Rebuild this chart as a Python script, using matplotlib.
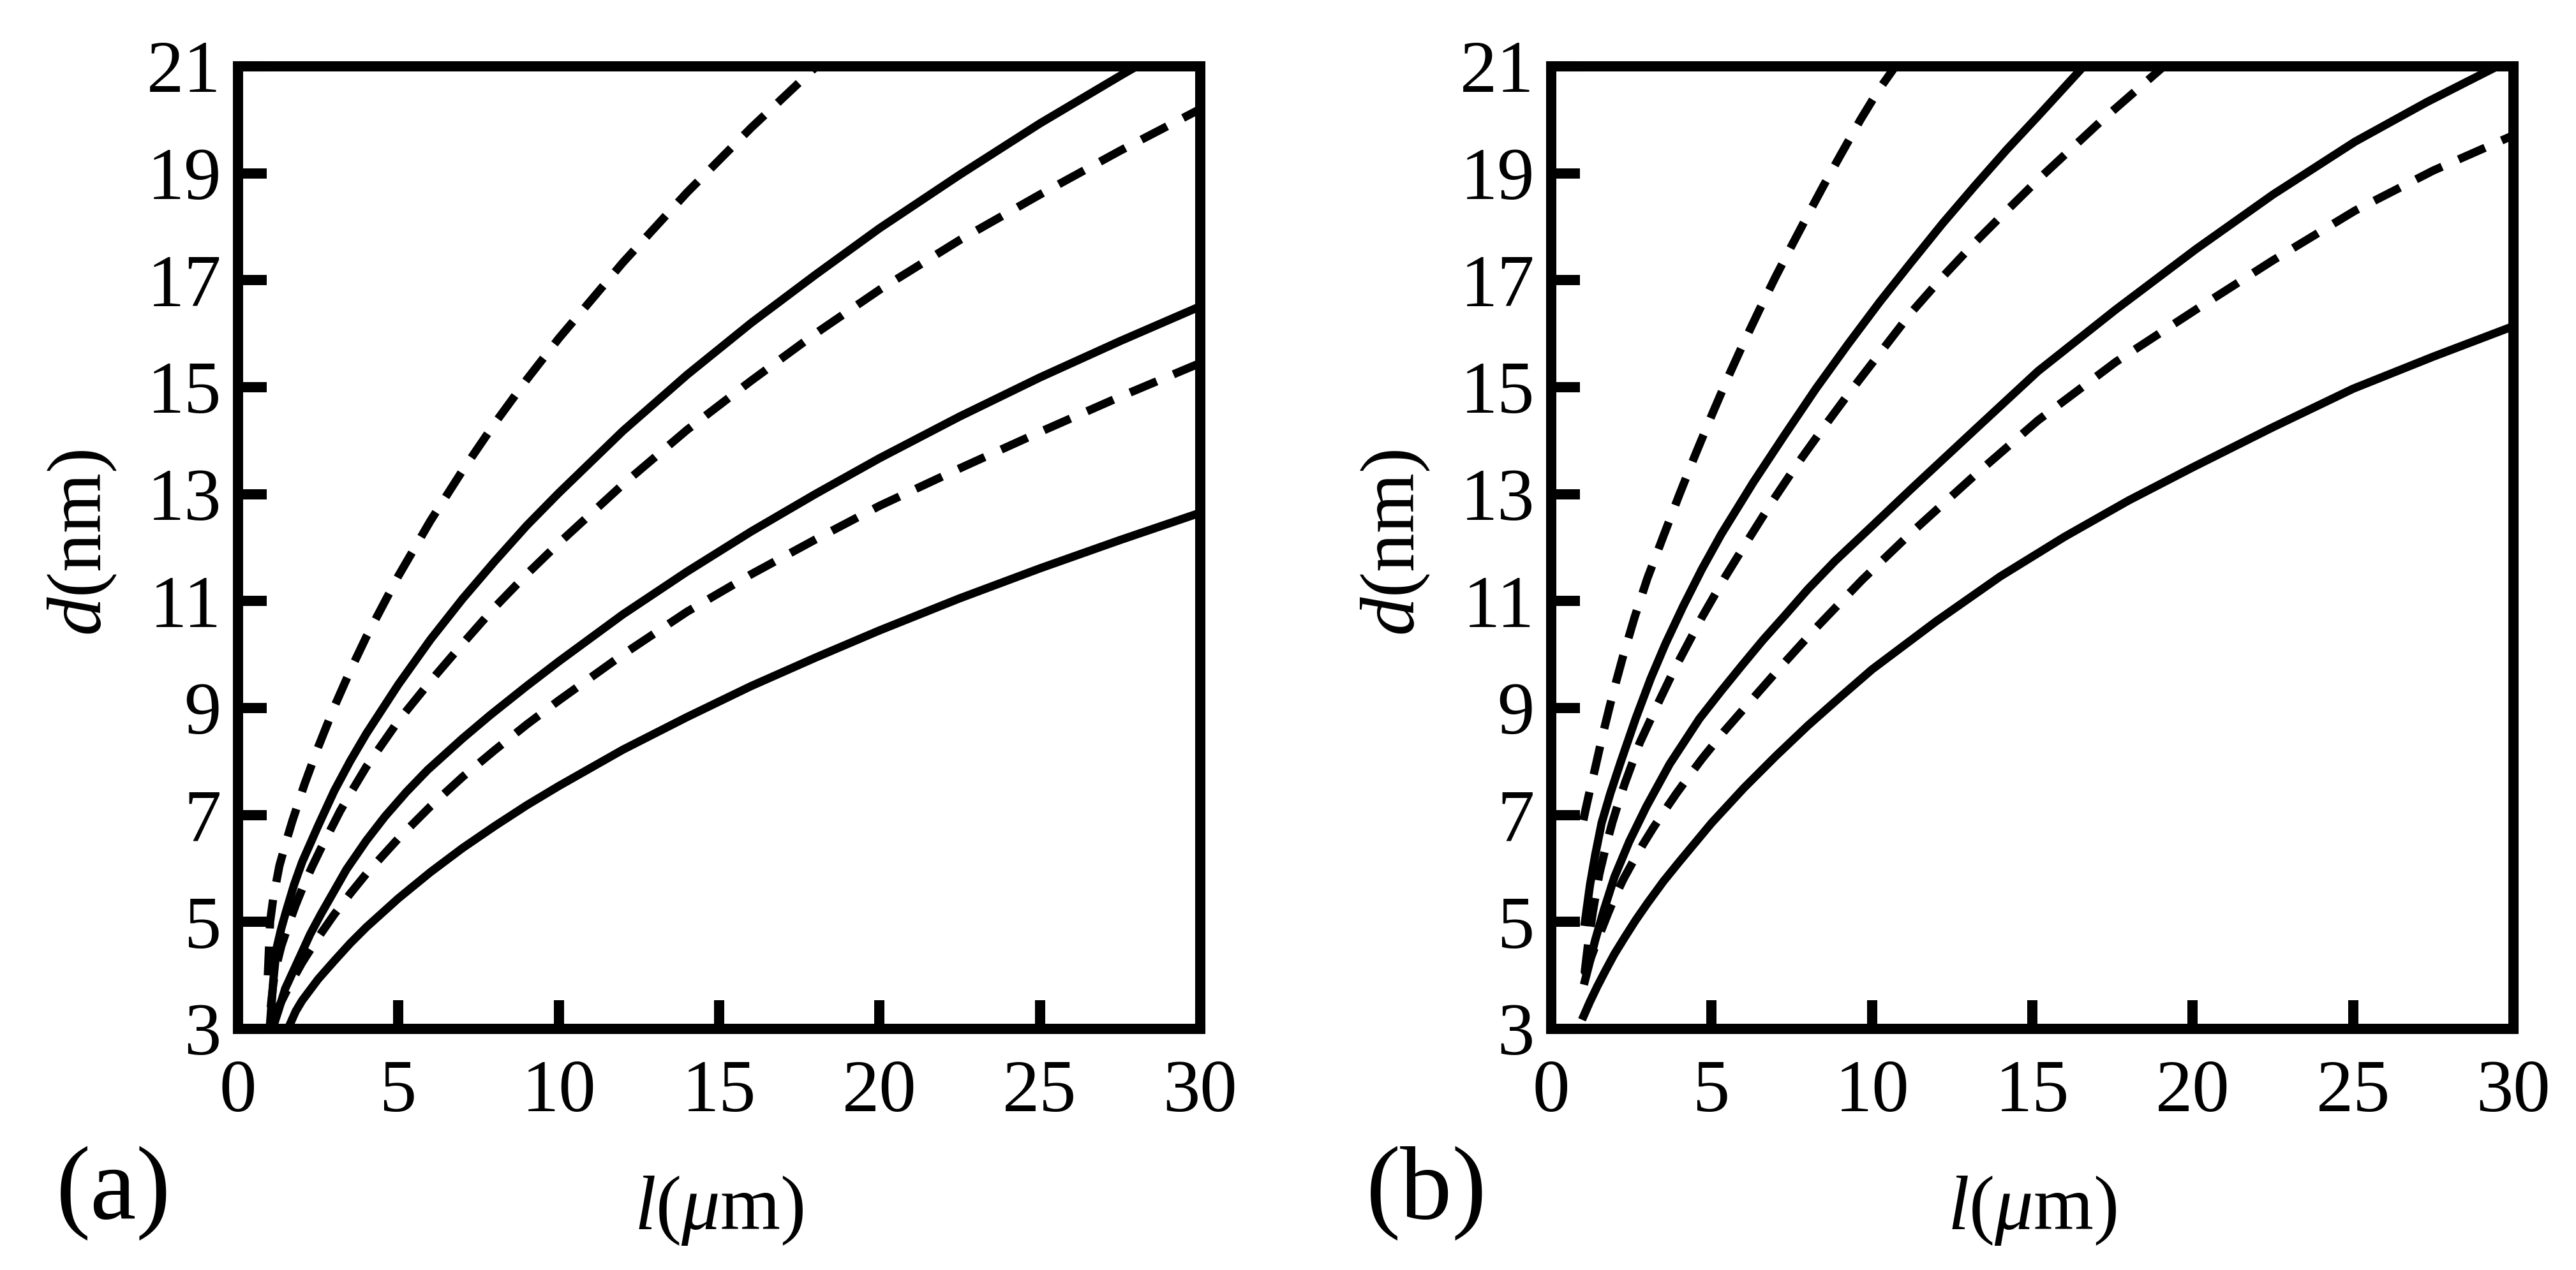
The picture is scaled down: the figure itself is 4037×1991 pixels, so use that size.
import matplotlib
matplotlib.use("Agg")
import matplotlib.pyplot as plt

plt.rcParams['font.family'] = ['Liberation Serif', 'DejaVu Serif']
plt.rcParams['mathtext.fontset'] = 'custom'
plt.rcParams['mathtext.rm'] = 'Liberation Serif'
plt.rcParams['mathtext.it'] = 'Liberation Serif:italic'

# ---- panel (a): l in um, d in nm ----
a_s1_x = [1.63, 1.8, 2.0, 2.5, 3.0, 3.5, 4.0, 5.0, 6.0, 7.0, 8.0, 9.0, 10.0, 12.0, 14.0, 16.0, 18.0, 20.0, 22.5, 25.0, 27.5, 30.0]
a_s1_y = [3.1, 3.33, 3.53, 3.93, 4.27, 4.6, 4.9, 5.44, 5.93, 6.38, 6.79, 7.18, 7.54, 8.22, 8.83, 9.41, 9.94, 10.45, 11.05, 11.61, 12.14, 12.65]

a_d1_x = [1.09, 1.3, 1.6, 2.0, 2.5, 3.0, 3.5, 4.0, 5.0, 6.0, 7.0, 8.0, 9.0, 10.0, 12.0, 14.0, 16.0, 18.0, 20.0, 22.5, 25.0, 27.5, 30.0]
a_d1_y = [3.25, 3.45, 3.81, 4.24, 4.71, 5.14, 5.53, 5.9, 6.56, 7.16, 7.71, 8.21, 8.69, 9.14, 10.0, 10.8, 11.5, 12.15, 12.78, 13.48, 14.16, 14.82, 15.45]

a_s2_x = [1.13, 1.27, 1.47, 1.7, 1.93, 2.25, 2.59, 3.0, 3.38, 4.0, 4.58, 5.25, 5.91, 7.0, 7.87, 9.0, 10.0, 12.0, 14.0, 16.0, 18.0, 20.0, 22.5, 25.0, 27.5, 30.0]
a_s2_y = [3.1, 3.36, 3.75, 4.05, 4.35, 4.77, 5.15, 5.58, 5.98, 6.52, 6.97, 7.43, 7.84, 8.43, 8.87, 9.41, 9.87, 10.75, 11.55, 12.3, 13.0, 13.67, 14.45, 15.18, 15.86, 16.51]

a_d2_x = [1.02, 1.1, 1.2, 1.35, 1.57, 1.8, 2.03, 2.3, 2.59, 2.9, 3.18, 3.5, 3.78, 4.0, 5.0, 6.0, 7.0, 8.0, 9.0, 10.0, 12.0, 14.0, 16.0, 18.0, 20.0, 22.5, 25.0, 27.5, 30.0]
a_d2_y = [3.4, 3.85, 4.19, 4.55, 4.94, 5.32, 5.66, 6.02, 6.38, 6.74, 7.07, 7.4, 7.68, 7.9, 8.76, 9.5, 10.2, 10.88, 11.5, 12.08, 13.18, 14.2, 15.12, 16.0, 16.82, 17.75, 18.6, 19.42, 20.2]

a_s3_x = [1.0, 1.1, 1.2, 1.35, 1.5, 1.75, 2.0, 2.5, 3.0, 3.5, 4.0, 5.0, 6.0, 7.0, 8.0, 9.0, 10.0, 12.0, 14.0, 16.0, 18.0, 20.0, 22.5, 25.0, 27.5, 29.0]
a_s3_y = [3.1, 3.9, 4.5, 4.88, 5.2, 5.7, 6.12, 6.8, 7.45, 8.01, 8.52, 9.44, 10.28, 11.04, 11.74, 12.41, 13.02, 14.18, 15.23, 16.2, 17.1, 17.97, 18.97, 19.93, 20.82, 21.34]

a_d3_x = [0.93, 1.0, 1.1, 1.29, 1.5, 1.69, 2.07, 2.5, 3.0, 3.5, 4.0, 5.0, 6.0, 7.0, 8.0, 9.0, 10.0, 12.0, 14.0, 16.0, 18.0, 19.0]
a_d3_y = [4.0, 5.0, 5.45, 6.05, 6.5, 6.88, 7.57, 8.27, 9.02, 9.7, 10.33, 11.47, 12.5, 13.44, 14.32, 15.14, 15.91, 17.33, 18.64, 19.85, 20.98, 21.53]

# ---- panel (b) ----
b_s1_x = [1.01, 1.2, 1.44, 1.7, 1.97, 2.3, 2.63, 3.0, 3.5, 4.0, 5.0, 6.0, 7.0, 8.0, 9.0, 10.0, 12.0, 14.0, 16.0, 18.0, 20.0, 22.5, 25.0, 27.5, 30.0]
b_s1_y = [3.24, 3.5, 3.8, 4.1, 4.4, 4.72, 5.03, 5.35, 5.76, 6.13, 6.85, 7.5, 8.1, 8.67, 9.2, 9.72, 10.62, 11.46, 12.2, 12.88, 13.5, 14.25, 14.97, 15.57, 16.14]

b_d1_x = [1.05, 1.25, 1.5, 1.75, 1.97, 2.25, 2.57, 2.85, 3.17, 3.5, 3.9, 4.3, 4.7, 5.4, 6.1, 7.2, 8.26, 9.7, 11.23, 13.2, 15.18, 17.6, 20.1, 22.5, 25.06, 27.5, 30.0]
b_d1_y = [4.0, 4.35, 4.75, 5.13, 5.45, 5.8, 6.15, 6.44, 6.75, 7.05, 7.4, 7.73, 8.05, 8.57, 9.05, 9.8, 10.5, 11.4, 12.28, 13.35, 14.38, 15.47, 16.45, 17.37, 18.3, 19.05, 19.71]

b_s2_x = [1.05, 1.17, 1.37, 1.64, 1.97, 2.43, 2.96, 3.69, 4.62, 5.3, 5.95, 6.6, 7.27, 8.0, 8.85, 10.0, 11.23, 13.2, 15.18, 17.6, 20.1, 22.5, 25.06, 27.3, 29.5, 30.0]
b_s2_y = [3.9, 4.18, 4.66, 5.22, 5.84, 6.5, 7.15, 7.95, 8.8, 9.32, 9.8, 10.27, 10.72, 11.22, 11.75, 12.4, 13.1, 14.2, 15.3, 16.45, 17.58, 18.6, 19.59, 20.33, 21.0, 21.15]

b_d2_x = [1.04, 1.15, 1.3, 1.5, 1.7, 1.9, 2.1, 2.3, 2.76, 3.3, 3.82, 4.7, 5.4, 6.09, 6.9, 7.67, 8.46, 9.25, 10.2, 11.23, 12.2, 13.2, 14.2, 15.18, 16.2, 17.15, 19.1, 19.6]
b_d2_y = [4.04, 4.6, 5.2, 5.9, 6.4, 6.85, 7.24, 7.6, 8.35, 9.05, 9.7, 10.7, 11.43, 12.1, 12.87, 13.56, 14.22, 14.86, 15.6, 16.4, 17.06, 17.7, 18.3, 18.88, 19.45, 19.98, 21.0, 21.25]

b_s3_x = [1.05, 1.21, 1.37, 1.57, 1.84, 2.17, 2.63, 3.1, 3.56, 4.11, 4.7, 5.3, 6.3, 7.27, 8.25, 9.25, 10.25, 11.23, 12.2, 13.2, 14.2, 15.18, 16.6, 17.0]
b_s3_y = [5.0, 5.7, 6.25, 6.85, 7.4, 8.0, 8.8, 9.55, 10.2, 10.9, 11.6, 12.25, 13.22, 14.1, 14.97, 15.8, 16.6, 17.34, 18.06, 18.76, 19.44, 20.07, 21.0, 21.25]

b_d3_x = [1.0, 1.07, 1.2, 1.34, 1.6, 1.9, 2.23, 2.6, 3.0, 3.5, 4.0, 4.5, 5.0, 5.5, 6.0, 6.5, 7.0, 7.5, 8.0, 8.5, 9.0, 9.64, 10.2, 10.73, 11.2]
b_d3_y = [6.9, 7.1, 7.45, 7.8, 8.49, 9.22, 9.95, 10.7, 11.43, 12.22, 13.0, 13.75, 14.47, 15.17, 15.83, 16.46, 17.07, 17.65, 18.22, 18.78, 19.32, 20.0, 20.55, 21.0, 21.4]

x_ticks = [0, 5, 10, 15, 20, 25, 30]
y_ticks = [3, 5, 7, 9, 11, 13, 15, 17, 19, 21]

panels = {
    '(a)': {'solid': [(a_s1_x, a_s1_y), (a_s2_x, a_s2_y), (a_s3_x, a_s3_y)],
            'dashed': [(a_d1_x, a_d1_y), (a_d2_x, a_d2_y), (a_d3_x, a_d3_y)]},
    '(b)': {'solid': [(b_s1_x, b_s1_y), (b_s2_x, b_s2_y), (b_s3_x, b_s3_y)],
            'dashed': [(b_d1_x, b_d1_y), (b_d2_x, b_d2_y), (b_d3_x, b_d3_y)]},
}

fig = plt.figure(figsize=(4037 / 300, 1991 / 300), dpi=300)
lefts = [0.0924, 0.6022]
lw = 3.1

for left, (tag, curves) in zip(lefts, panels.items()):
    ax = fig.add_axes([left, 0.1899, 0.3735, 0.7579])
    for xs, ys in curves['solid']:
        ax.plot(xs, ys, color='black', lw=lw, solid_joinstyle='round')
    for xs, ys in curves['dashed']:
        ax.plot(xs, ys, color='black', lw=lw, dashes=(3.5, 2.2))

    ax.set_xlim(0, 30)
    ax.set_ylim(3, 21)
    ax.set_xticks(x_ticks)
    ax.set_yticks(y_ticks)
    for sp in ax.spines.values():
        sp.set_linewidth(3.85)
    ax.tick_params(direction='in', length=10.8, width=3.85, labelsize=28,
                   top=False, right=False)
    ax.tick_params(axis='x', pad=11.5)
    ax.tick_params(axis='y', pad=6.3)

    ax.set_xlabel(r'$l(\mu\mathrm{m})$', fontsize=29, va='center')
    ax.xaxis.set_label_coords(0.5, -0.189)
    ax.set_ylabel(r'$d$(nm)', fontsize=29, va='center')
    ax.yaxis.set_label_coords(-0.162, 0.505)

    # panel tag below the y label
    fig.text(left - 195 / 4037, 1 - 1871 / 1991, tag, fontsize=39,
             ha='center', va='center')

fig.savefig('out.png', dpi=300)
